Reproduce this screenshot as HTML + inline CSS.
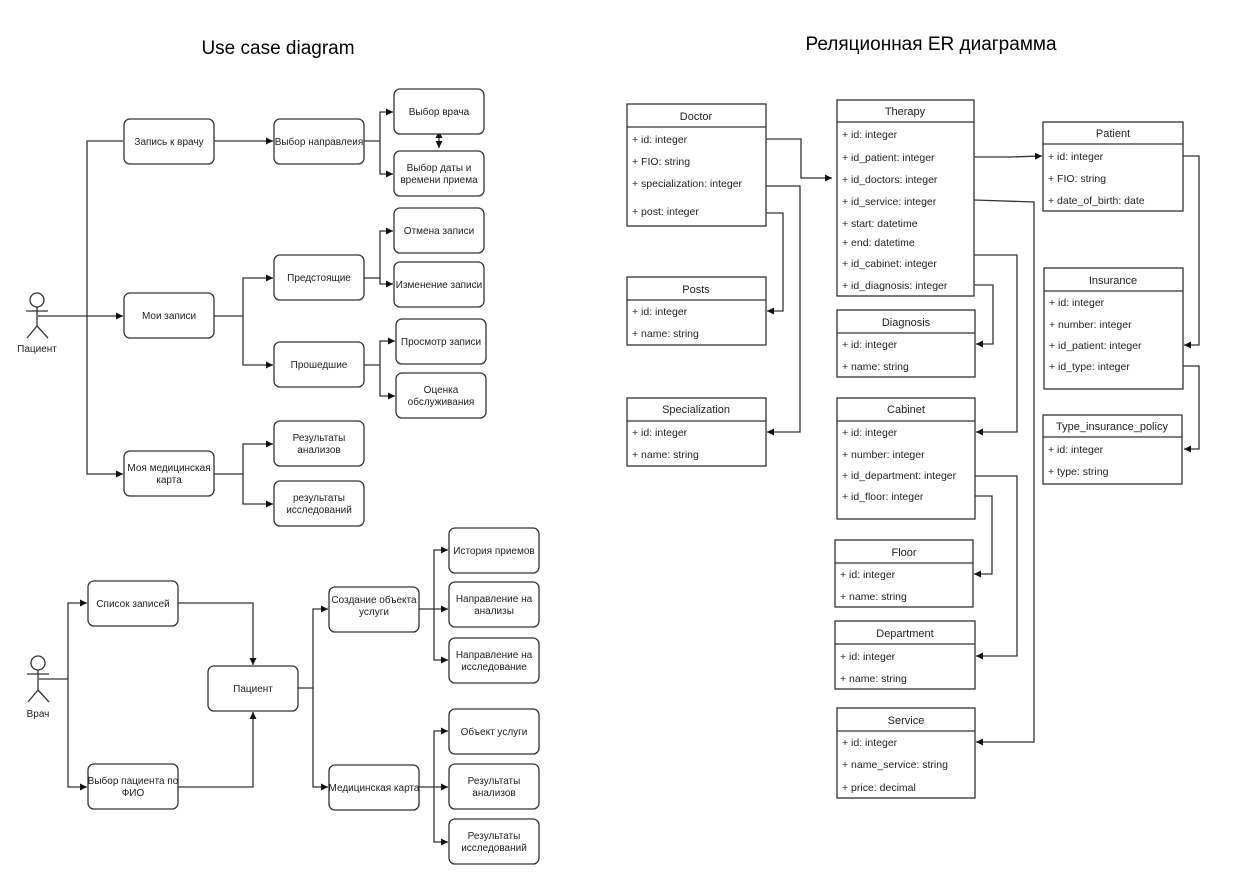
<!DOCTYPE html>
<html><head><meta charset="utf-8"><style>
html,body{margin:0;padding:0;background:#fff;}
svg{display:block;}
text{font-family:"Liberation Sans","DejaVu Sans",sans-serif;fill:#222;}
.b{fill:#fff;stroke:#333;stroke-width:1.3;}
.l{fill:none;stroke:#333;stroke-width:1.3;}
.t{font-size:10px;text-anchor:middle;}
.e{font-size:10.5px;}
.h{font-size:11px;text-anchor:middle;}
</style></head><body>
<svg width="1256" height="886" viewBox="0 0 1256 886" xmlns="http://www.w3.org/2000/svg">
<defs>
<marker id="a" viewBox="0 0 8 8" refX="8" refY="4" markerWidth="7" markerHeight="7" markerUnits="userSpaceOnUse" orient="auto"><path d="M0,0L8,4L0,8z" fill="#111"/></marker>
<marker id="s" viewBox="0 0 8 8" refX="0" refY="4" markerWidth="7" markerHeight="7" markerUnits="userSpaceOnUse" orient="auto-start-reverse"><path d="M0,0L8,4L0,8z" fill="#111"/></marker>
</defs>
<text x="278" y="54" style="font-size:19px;text-anchor:middle;fill:#000">Use case diagram</text>
<text x="931" y="50" style="font-size:19px;text-anchor:middle;fill:#000">Реляционная ER диаграмма</text>

<g class="l"><circle cx="37" cy="300" r="7"/><line x1="37" y1="307" x2="37" y2="326"/><line x1="26" y1="311" x2="48" y2="311"/><line x1="37" y1="326" x2="27" y2="338"/><line x1="37" y1="326" x2="48" y2="338"/></g>
<text x="37" y="352" class="t">Пациент</text>
<path class="l" d="M38,316H123" marker-end="url(#a)"/>
<path class="l" d="M123,141H87V474H123" marker-end="url(#a)"/>
<path class="l" d="M214,141H273" marker-end="url(#a)"/>
<path class="l" d="M364,141H380V112H393" marker-end="url(#a)"/>
<path class="l" d="M380,141V174H393" marker-end="url(#a)"/>
<path class="l" d="M439,138V148" marker-start="url(#s)" marker-end="url(#a)"/>
<path class="l" d="M214,316H243V278H273" marker-end="url(#a)"/>
<path class="l" d="M243,316V365H273" marker-end="url(#a)"/>
<path class="l" d="M364,278H380V231H393" marker-end="url(#a)"/>
<path class="l" d="M380,278V284H393" marker-end="url(#a)"/>
<path class="l" d="M364,365H380V341H395" marker-end="url(#a)"/>
<path class="l" d="M380,365V396H395" marker-end="url(#a)"/>
<path class="l" d="M214,474H243V444H273" marker-end="url(#a)"/>
<path class="l" d="M243,474V504H273" marker-end="url(#a)"/>

<rect class="b" x="124" y="119" width="90" height="45" rx="6"/><text x="169" y="145" class="t">Запись к врачу</text>
<rect class="b" x="274" y="119" width="90" height="45" rx="6"/><text x="319" y="145" class="t">Выбор направлеия</text>
<rect class="b" x="394" y="89" width="90" height="45" rx="6"/><text x="439" y="115" class="t">Выбор врача</text>
<rect class="b" x="394" y="151" width="90" height="45" rx="6"/><text x="439" y="171" class="t">Выбор даты и</text><text x="439" y="183" class="t">времени приема</text>
<rect class="b" x="124" y="293" width="90" height="45" rx="6"/><text x="169" y="319" class="t">Мои записи</text>
<rect class="b" x="274" y="255" width="90" height="45" rx="6"/><text x="319" y="281" class="t">Предстоящие</text>
<rect class="b" x="394" y="208" width="90" height="45" rx="6"/><text x="439" y="234" class="t">Отмена записи</text>
<rect class="b" x="394" y="262" width="90" height="45" rx="6"/><text x="439" y="288" class="t">Изменение записи</text>
<rect class="b" x="274" y="342" width="90" height="45" rx="6"/><text x="319" y="368" class="t">Прошедшие</text>
<rect class="b" x="396" y="319" width="90" height="45" rx="6"/><text x="441" y="345" class="t">Просмотр записи</text>
<rect class="b" x="396" y="373" width="90" height="45" rx="6"/><text x="441" y="393" class="t">Оценка</text><text x="441" y="405" class="t">обслуживания</text>
<rect class="b" x="124" y="451" width="90" height="45" rx="6"/><text x="169" y="471" class="t">Моя медицинская</text><text x="169" y="483" class="t">карта</text>
<rect class="b" x="274" y="421" width="90" height="45" rx="6"/><text x="319" y="441" class="t">Результаты</text><text x="319" y="453" class="t">анализов</text>
<rect class="b" x="274" y="481" width="90" height="45" rx="6"/><text x="319" y="501" class="t">результаты</text><text x="319" y="513" class="t">исследований</text>

<g class="l"><circle cx="38" cy="663" r="7"/><line x1="38" y1="670" x2="38" y2="690"/><line x1="27" y1="674" x2="49" y2="674"/><line x1="38" y1="690" x2="28" y2="702"/><line x1="38" y1="690" x2="49" y2="702"/></g>
<text x="38" y="717" class="t">Врач</text>
<path class="l" d="M39,679H68"/>
<path class="l" d="M68,679V603H87" marker-end="url(#a)"/>
<path class="l" d="M68,679V787H87" marker-end="url(#a)"/>
<path class="l" d="M178,603H253V665" marker-end="url(#a)"/>
<path class="l" d="M178,787H253V712" marker-end="url(#a)"/>
<path class="l" d="M298,688H313V609H328" marker-end="url(#a)"/>
<path class="l" d="M313,688V787H328" marker-end="url(#a)"/>
<path class="l" d="M419,609H448" marker-end="url(#a)"/>
<path class="l" d="M434,609V550H448" marker-end="url(#a)"/>
<path class="l" d="M434,609V660H448" marker-end="url(#a)"/>
<path class="l" d="M419,787H448" marker-end="url(#a)"/>
<path class="l" d="M434,787V731H448" marker-end="url(#a)"/>
<path class="l" d="M434,787V842H448" marker-end="url(#a)"/>

<rect class="b" x="88" y="581" width="90" height="45" rx="6"/><text x="133" y="607" class="t">Список записей</text>
<rect class="b" x="88" y="764" width="90" height="45" rx="6"/><text x="133" y="784" class="t">Выбор пациента по</text><text x="133" y="796" class="t">ФИО</text>
<rect class="b" x="208" y="666" width="90" height="45" rx="6"/><text x="253" y="692" class="t">Пациент</text>
<rect class="b" x="329" y="587" width="90" height="45" rx="6"/><text x="374" y="603" class="t">Создание объекта</text><text x="374" y="615" class="t">услуги</text>
<rect class="b" x="329" y="765" width="90" height="45" rx="6"/><text x="374" y="791" class="t">Медицинская карта</text>
<rect class="b" x="449" y="528" width="90" height="45" rx="6"/><text x="494" y="554" class="t">История приемов</text>
<rect class="b" x="449" y="582" width="90" height="45" rx="6"/><text x="494" y="602" class="t">Направление на</text><text x="494" y="614" class="t">анализы</text>
<rect class="b" x="449" y="638" width="90" height="45" rx="6"/><text x="494" y="658" class="t">Направление на</text><text x="494" y="670" class="t">исследование</text>
<rect class="b" x="449" y="709" width="90" height="45" rx="6"/><text x="494" y="735" class="t">Объект услуги</text>
<rect class="b" x="449" y="764" width="90" height="45" rx="6"/><text x="494" y="784" class="t">Результаты</text><text x="494" y="796" class="t">анализов</text>
<rect class="b" x="449" y="819" width="90" height="45" rx="6"/><text x="494" y="839" class="t">Результаты</text><text x="494" y="851" class="t">исследований</text>

<path class="l" d="M766,139H801V178H832" marker-end="url(#a)"/>
<path class="l" d="M766,186H800V432H767" marker-end="url(#a)"/>
<path class="l" d="M766,213H783V311H767" marker-end="url(#a)"/>
<path class="l" d="M974,157H1010L1042,156" marker-end="url(#a)"/>
<path class="l" d="M974,200L1034,202V742H976" marker-end="url(#a)"/>
<path class="l" d="M974,255H1017V432H976" marker-end="url(#a)"/>
<path class="l" d="M974,285H993V344H976" marker-end="url(#a)"/>
<path class="l" d="M975,476H1017V656H976" marker-end="url(#a)"/>
<path class="l" d="M975,496H992V574H974" marker-end="url(#a)"/>
<path class="l" d="M1183,156H1199V345H1184" marker-end="url(#a)"/>
<path class="l" d="M1183,366H1199V449H1184" marker-end="url(#a)"/>

<g>
<rect class="b" x="627" y="104" width="139" height="122"/><line class="l" x1="627" y1="127" x2="766" y2="127"/>
<text x="696" y="120" class="h">Doctor</text>
<text x="632" y="143" class="e">+ id: integer</text><text x="632" y="165" class="e">+ FIO: string</text><text x="632" y="187" class="e">+ specialization: integer</text><text x="632" y="215" class="e">+ post: integer</text>

<rect class="b" x="627" y="277" width="139" height="68"/><line class="l" x1="627" y1="300" x2="766" y2="300"/>
<text x="696" y="293" class="h">Posts</text>
<text x="632" y="315" class="e">+ id: integer</text><text x="632" y="337" class="e">+ name: string</text>

<rect class="b" x="627" y="398" width="139" height="68"/><line class="l" x1="627" y1="421" x2="766" y2="421"/>
<text x="696" y="413" class="h">Specialization</text>
<text x="632" y="436" class="e">+ id: integer</text><text x="632" y="458" class="e">+ name: string</text>

<rect class="b" x="837" y="100" width="137" height="196"/><line class="l" x1="837" y1="122" x2="974" y2="122"/>
<text x="905" y="115" class="h">Therapy</text>
<text x="842" y="138" class="e">+ id: integer</text><text x="842" y="161" class="e">+ id_patient: integer</text><text x="842" y="183" class="e">+ id_doctors: integer</text><text x="842" y="205" class="e">+ id_service: integer</text><text x="842" y="227" class="e">+ start: datetime</text><text x="842" y="246" class="e">+ end: datetime</text><text x="842" y="267" class="e">+ id_cabinet: integer</text><text x="842" y="289" class="e">+ id_diagnosis: integer</text>

<rect class="b" x="837" y="310" width="138" height="67"/><line class="l" x1="837" y1="333" x2="975" y2="333"/>
<text x="906" y="326" class="h">Diagnosis</text>
<text x="842" y="348" class="e">+ id: integer</text><text x="842" y="370" class="e">+ name: string</text>

<rect class="b" x="837" y="398" width="138" height="121"/><line class="l" x1="837" y1="421" x2="975" y2="421"/>
<text x="906" y="413" class="h">Cabinet</text>
<text x="842" y="436" class="e">+ id: integer</text><text x="842" y="458" class="e">+ number: integer</text><text x="842" y="479" class="e">+ id_department: integer</text><text x="842" y="500" class="e">+ id_floor: integer</text>

<rect class="b" x="835" y="540" width="138" height="67"/><line class="l" x1="835" y1="563" x2="973" y2="563"/>
<text x="904" y="556" class="h">Floor</text>
<text x="840" y="578" class="e">+ id: integer</text><text x="840" y="600" class="e">+ name: string</text>

<rect class="b" x="835" y="621" width="140" height="68"/><line class="l" x1="835" y1="644" x2="975" y2="644"/>
<text x="905" y="637" class="h">Department</text>
<text x="840" y="660" class="e">+ id: integer</text><text x="840" y="682" class="e">+ name: string</text>

<rect class="b" x="837" y="708" width="138" height="90"/><line class="l" x1="837" y1="731" x2="975" y2="731"/>
<text x="906" y="724" class="h">Service</text>
<text x="842" y="746" class="e">+ id: integer</text><text x="842" y="768" class="e">+ name_service: string</text><text x="842" y="791" class="e">+ price: decimal</text>

<rect class="b" x="1043" y="122" width="140" height="89"/><line class="l" x1="1043" y1="144" x2="1183" y2="144"/>
<text x="1113" y="137" class="h">Patient</text>
<text x="1048" y="160" class="e">+ id: integer</text><text x="1048" y="182" class="e">+ FIO: string</text><text x="1048" y="204" class="e">+ date_of_birth: date</text>

<rect class="b" x="1044" y="268" width="139" height="121"/><line class="l" x1="1044" y1="291" x2="1183" y2="291"/>
<text x="1113" y="284" class="h">Insurance</text>
<text x="1049" y="306" class="e">+ id: integer</text><text x="1049" y="328" class="e">+ number: integer</text><text x="1049" y="349" class="e">+ id_patient: integer</text><text x="1049" y="370" class="e">+ id_type: integer</text>

<rect class="b" x="1043" y="415" width="139" height="69"/><line class="l" x1="1043" y1="437" x2="1182" y2="437"/>
<text x="1112" y="430" class="h">Type_insurance_policy</text>
<text x="1048" y="453" class="e">+ id: integer</text><text x="1048" y="475" class="e">+ type: string</text>
</g>
</svg>
</body></html>
